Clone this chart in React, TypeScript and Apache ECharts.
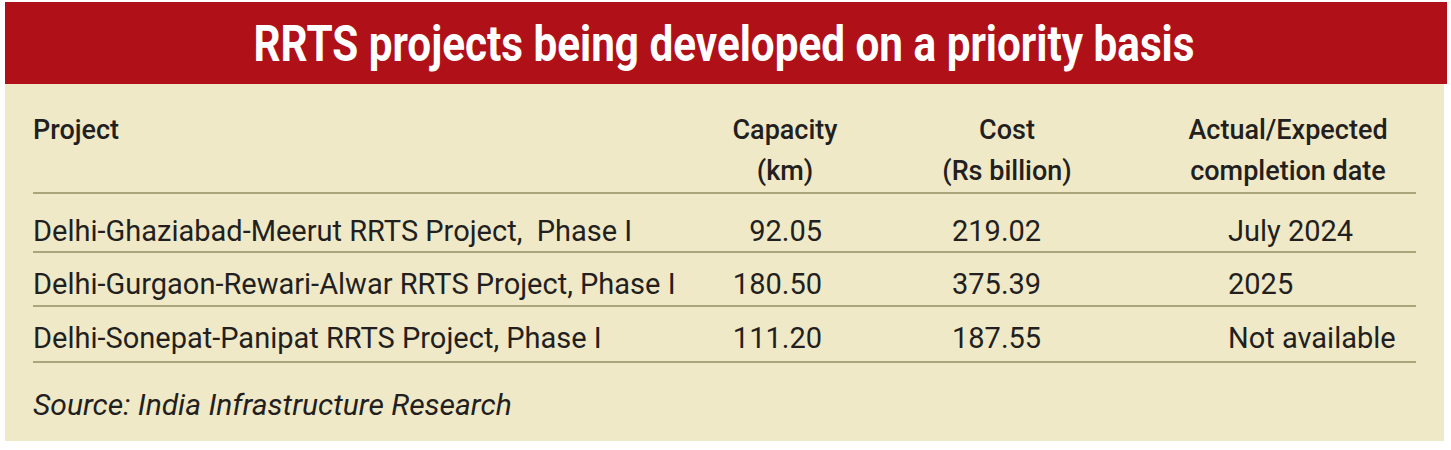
import React, { useEffect, useRef } from 'react';
import * as echarts from 'echarts';

const title = 'RRTS projects being developed on a priority basis';
const headerTop = ['Project', 'Capacity', 'Cost', 'Actual/Expected'];
const headerBottom = ['', '(km)', '(Rs billion)', 'completion date'];
const projects = [
  'Delhi-Ghaziabad-Meerut RRTS Project,  Phase I',
  'Delhi-Gurgaon-Rewari-Alwar RRTS Project, Phase I',
  'Delhi-Sonepat-Panipat RRTS Project, Phase I',
];
const capacityKm = ['92.05', '180.50', '111.20'];
const costRsBillion = ['219.02', '375.39', '187.55'];
const completion = ['July 2024', '2025', 'Not available'];
const source = 'Source: India Infrastructure Research';

const RED = '#b01018';
const BEIGE = '#efe9c8';
const RULE = '#aaa67c';
const INK = '#231f20';
const FONT = 'Roboto, "Liberation Sans", sans-serif';

const App: React.FC = () => {
  const chartRef = useRef<HTMLDivElement>(null);

  useEffect(() => {
    document.body.style.margin = '0';
    if (!chartRef.current) return undefined;
    const chart = echarts.init(chartRef.current, null, { renderer: 'svg' });

    const left = 33;
    const right = 1416;
    const rowMid = [231, 284, 338];
    const rules = [193, 252, 306, 362];

    const txt = (
      text: string,
      x: number,
      y: number,
      align: 'left' | 'center' | 'right',
      opts: Record<string, unknown> = {},
    ) => ({
      type: 'text',
      x,
      y,
      style: {
        text,
        x: 0,
        y: 0,
        textAlign: align,
        textVerticalAlign: 'middle',
        fill: INK,
        fontSize: 29,
        fontFamily: FONT,
        ...opts,
      },
    });

    const elements: any[] = [
      { type: 'rect', shape: { x: 5, y: 84, width: 1439, height: 357 }, style: { fill: BEIGE } },
      { type: 'rect', shape: { x: 5, y: 2, width: 1442, height: 82 }, style: { fill: RED } },
      {
        ...txt(title, 724, 44, 'center', { fill: '#ffffff', fontSize: 50, fontWeight: 'bold' }),
        scaleX: 0.845,
      },
    ];

    rules.forEach((y) => {
      elements.push({
        type: 'line',
        shape: { x1: left, y1: y, x2: right, y2: y },
        style: { stroke: RULE, lineWidth: 2 },
      });
    });

    const headX = [left, 785, 1007, 1288];
    const headAlign: ('left' | 'center')[] = ['left', 'center', 'center', 'center'];
    headerTop.forEach((t, i) => {
      elements.push(txt(t, headX[i], 130, headAlign[i], { fontWeight: 500, fontSize: 27 }));
    });
    headerBottom.forEach((t, i) => {
      if (t) elements.push(txt(t, headX[i], 171, headAlign[i], { fontWeight: 500, fontSize: 27 }));
    });

    projects.forEach((p, i) => {
      const y = rowMid[i];
      elements.push(txt(p, left, y, 'left'));
      elements.push(txt(capacityKm[i], 822, y, 'right'));
      elements.push(txt(costRsBillion[i], 952, y, 'left'));
      elements.push(txt(completion[i], 1228, y, 'left'));
    });

    elements.push(txt(source, left, 404, 'left', { fontStyle: 'italic', fontSize: 30 }));

    chart.setOption({
      animation: false,
      backgroundColor: '#ffffff',
      graphic: { elements },
    });

    return () => {
      chart.dispose();
    };
  }, []);

  return <div ref={chartRef} style={{ width: 1451, height: 450 }} />;
};

export default App;
